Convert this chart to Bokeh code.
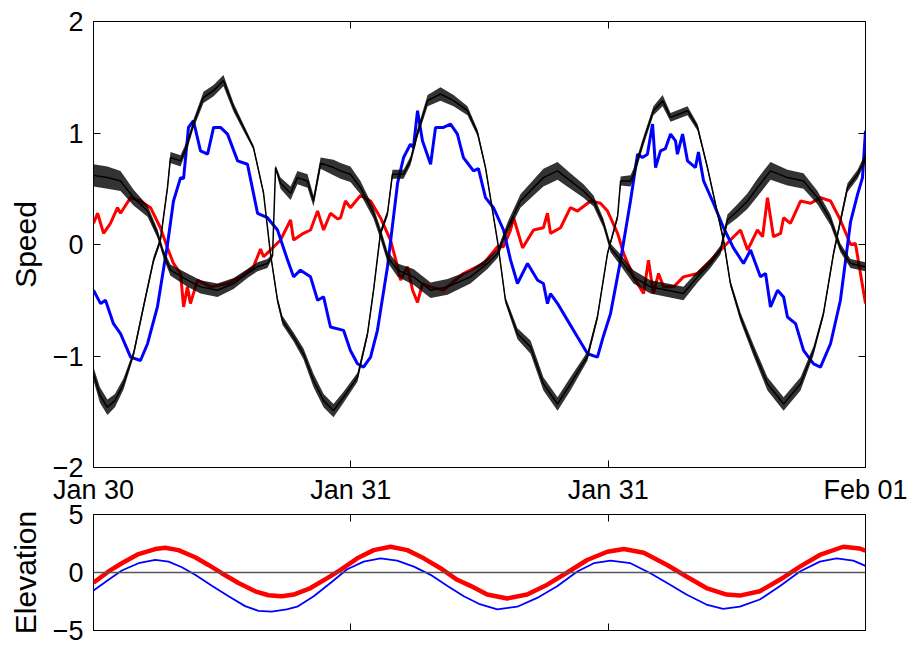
from bokeh.plotting import figure
from bokeh.layouts import column
from bokeh.models import LinearAxis, FixedTicker, Range1d, Span
from bokeh.embed import file_html
from bokeh.resources import INLINE

FONT = "Liberation Sans"

# ---- x axis (hours since first tick) ----
x_ticks = [0, 12, 24, 36]
x_tick_labels = ["Jan 30", "Jan 31", "Jan 31", "Feb 01"]
speed_ticks = [-2, -1, 0, 1, 2]
elev_ticks = [-5, 0, 5]

# ---- top panel: speed (hours, value) ----
red_speed = [(0.0, 0.19), (0.19, 0.28), (0.47, 0.10), (0.79, 0.19), (1.12, 0.33), (1.26, 0.28),
             (1.73, 0.42), (2.19, 0.39), (2.66, 0.33), (3.12, 0.15), (3.45, -0.03), (3.73, -0.17),
             (4.06, -0.26), (4.20, -0.56), (4.38, -0.38), (4.52, -0.53), (4.85, -0.32), (5.46, -0.38),
             (6.25, -0.35), (6.85, -0.29), (7.46, -0.20), (7.79, -0.04), (7.93, -0.11), (8.25, -0.05),
             (8.72, 0.04), (9.19, 0.22), (9.33, 0.04), (9.79, 0.10), (10.12, 0.13), (10.45, 0.30),
             (10.73, 0.13), (11.05, 0.28), (11.38, 0.23), (11.52, 0.24), (11.75, 0.39), (11.98, 0.33),
             (12.45, 0.44), (12.92, 0.39), (13.38, 0.24), (13.85, 0.04), (14.18, -0.20), (14.32, -0.32),
             (14.64, -0.20), (14.88, -0.41), (15.11, -0.52), (15.34, -0.35), (15.72, -0.38), (16.32, -0.41),
             (17.25, -0.26), (18.19, -0.17), (18.84, -0.02), (19.12, -0.02), (19.45, 0.13), (19.59, 0.24),
             (20.01, -0.03), (20.52, 0.13), (20.98, 0.15), (21.17, 0.28), (21.31, 0.10), (21.78, 0.15),
             (22.24, 0.33), (22.57, 0.30), (23.18, 0.39), (23.64, 0.37), (23.97, 0.30), (24.44, 0.10),
             (24.72, -0.08), (25.18, -0.29), (25.65, -0.44), (25.88, -0.14), (26.11, -0.44), (26.35, -0.26),
             (26.58, -0.38), (27.05, -0.38), (27.51, -0.29), (28.17, -0.26), (28.63, -0.17), (29.24, -0.05),
             (29.70, 0.04), (30.17, 0.13), (30.50, -0.05), (30.96, 0.13), (31.20, 0.07), (31.43, 0.42),
             (31.71, 0.07), (32.04, 0.10), (32.18, 0.24), (32.50, 0.19), (32.97, 0.39), (33.44, 0.37),
             (33.90, 0.42), (34.37, 0.39), (34.83, 0.22), (35.30, 0.00), (35.53, 0.01), (36.0, -0.53)]

blue_speed = [(0.0, -0.41), (0.33, -0.53), (0.56, -0.50), (0.93, -0.71), (1.26, -0.80), (1.73, -1.01),
              (2.19, -1.04), (2.52, -0.89), (2.98, -0.56), (3.45, 0.00), (3.73, 0.39), (4.06, 0.60),
              (4.20, 0.59), (4.43, 1.05), (4.66, 1.11), (4.99, 0.84), (5.32, 0.81), (5.60, 1.05),
              (5.92, 1.05), (6.25, 0.99), (6.72, 0.75), (7.18, 0.72), (7.65, 0.28), (8.11, 0.24),
              (8.58, 0.13), (9.05, -0.14), (9.33, -0.29), (9.65, -0.23), (10.12, -0.29), (10.45, -0.50),
              (10.73, -0.47), (11.05, -0.74), (11.66, -0.77), (11.98, -0.95), (12.31, -1.07), (12.59, -1.10),
              (12.92, -1.01), (13.24, -0.77), (13.71, -0.20), (14.18, 0.55), (14.46, 0.78), (14.78, 0.90),
              (14.92, 0.87), (15.11, 1.20), (15.34, 0.93), (15.72, 0.72), (15.95, 1.05), (16.32, 1.05),
              (16.65, 1.08), (16.97, 0.99), (17.25, 0.78), (17.72, 0.66), (17.95, 0.68), (18.28, 0.42),
              (18.65, 0.33), (19.12, 0.13), (19.45, -0.14), (19.77, -0.35), (20.24, -0.17), (20.71, -0.32),
              (20.98, -0.35), (21.17, -0.53), (21.31, -0.44), (21.64, -0.53), (21.92, -0.62), (22.57, -0.83),
              (23.04, -0.98), (23.50, -1.01), (23.78, -0.82), (24.11, -0.62), (24.58, -0.14), (25.04, 0.39),
              (25.37, 0.81), (25.60, 0.78), (25.83, 0.81), (26.07, 1.08), (26.21, 0.69), (26.44, 0.84),
              (26.67, 0.86), (26.91, 0.99), (27.14, 0.93), (27.23, 0.81), (27.47, 0.99), (27.70, 0.75),
              (28.07, 0.69), (28.21, 0.83), (28.45, 0.57), (28.91, 0.37), (29.38, 0.15), (29.84, -0.03),
              (30.31, -0.17), (30.64, -0.05), (31.10, -0.29), (31.34, -0.26), (31.57, -0.56), (31.90, -0.41),
              (32.18, -0.47), (32.36, -0.65), (32.74, -0.71), (33.11, -0.95), (33.58, -1.07), (33.90, -1.10),
              (34.37, -0.89), (34.83, -0.50), (35.30, 0.20), (35.63, 0.45), (35.86, 0.60), (36.0, 1.02)]

# black series: (hours, value, half-width of the noise band)
black_a = [(0.0, 0.62, 0.10), (0.65, 0.60, 0.10), (1.26, 0.57, 0.09), (1.87, 0.42, 0.07), (2.52, 0.30, 0.05),
           (2.98, 0.10, 0.04), (3.26, -0.08, 0.04), (3.59, -0.23, 0.05), (4.38, -0.32, 0.06), (4.99, -0.38, 0.06),
           (5.78, -0.41, 0.06), (6.53, -0.35, 0.05), (7.18, -0.26, 0.04), (7.65, -0.20, 0.04), (8.11, -0.17, 0.04),
           (8.35, -0.10, 0.02), (8.49, 0.69, 0.02), (8.72, 0.55, 0.05), (9.19, 0.46, 0.06), (9.51, 0.60, 0.06),
           (9.98, 0.57, 0.06), (10.26, 0.39, 0.05), (10.59, 0.73, 0.05), (11.19, 0.69, 0.07), (11.52, 0.66, 0.07),
           (11.98, 0.63, 0.07), (12.45, 0.51, 0.06), (13.06, 0.28, 0.05), (13.38, 0.10, 0.05), (13.71, -0.11, 0.05),
           (14.18, -0.23, 0.06), (14.92, -0.29, 0.07), (15.72, -0.41, 0.07), (16.51, -0.38, 0.07), (17.58, -0.29, 0.06),
           (18.37, -0.17, 0.05), (18.84, -0.08, 0.04), (19.31, 0.15, 0.05), (19.91, 0.39, 0.06), (20.52, 0.51, 0.07),
           (20.98, 0.60, 0.08), (21.64, 0.66, 0.08), (22.24, 0.57, 0.07), (22.85, 0.48, 0.06), (23.32, 0.39, 0.05),
           (23.78, 0.19, 0.04), (24.11, -0.03, 0.04), (24.58, -0.14, 0.05), (25.18, -0.29, 0.06), (25.97, -0.38, 0.06),
           (26.77, -0.41, 0.06), (27.51, -0.44, 0.06), (28.17, -0.29, 0.05), (28.77, -0.17, 0.04), (29.24, -0.05, 0.04),
           (29.56, 0.22, 0.05), (30.03, 0.30, 0.06), (30.50, 0.39, 0.07), (30.96, 0.51, 0.08), (31.57, 0.66, 0.08),
           (32.36, 0.60, 0.07), (33.11, 0.57, 0.07), (33.76, 0.42, 0.06), (34.37, 0.22, 0.05), (34.83, -0.03, 0.04),
           (35.30, -0.17, 0.04), (36.0, -0.20, 0.04)]

black_b = [(0.0, -1.16, 0.06), (0.30, -1.35, 0.07), (0.65, -1.46, 0.07), (1.00, -1.40, 0.06), (1.40, -1.25, 0.05),
           (1.87, -0.98, 0.03), (2.33, -0.56, 0.03), (2.80, -0.14, 0.03), (3.12, 0.04, 0.03), (3.45, 0.51, 0.03),
           (3.59, 0.78, 0.05), (4.06, 0.75, 0.05), (4.38, 0.90, 0.04), (4.66, 1.08, 0.04), (5.13, 1.32, 0.05),
           (5.60, 1.38, 0.05), (6.06, 1.47, 0.05), (6.53, 1.23, 0.04), (6.99, 1.05, 0.03), (7.46, 0.87, 0.02),
           (7.93, 0.46, 0.02), (8.25, -0.08, 0.02), (8.58, -0.50, 0.03), (8.81, -0.68, 0.04), (9.33, -0.83, 0.04),
           (9.79, -0.98, 0.05), (10.26, -1.22, 0.06), (10.73, -1.40, 0.06), (11.19, -1.49, 0.06), (11.66, -1.37, 0.05),
           (12.31, -1.19, 0.04), (12.78, -0.80, 0.03), (13.06, -0.41, 0.03), (13.38, 0.10, 0.03), (13.71, 0.28, 0.03),
           (13.94, 0.63, 0.04), (14.46, 0.63, 0.04), (14.78, 0.75, 0.04), (15.11, 1.00, 0.04), (15.58, 1.29, 0.05),
           (16.18, 1.35, 0.06), (16.79, 1.29, 0.05), (17.44, 1.20, 0.04), (17.91, 1.00, 0.03), (18.28, 0.69, 0.02),
           (18.84, 0.03, 0.02), (19.21, -0.50, 0.03), (19.77, -0.80, 0.05), (20.38, -0.92, 0.06), (20.98, -1.25, 0.06),
           (21.64, -1.43, 0.06), (22.24, -1.25, 0.06), (23.04, -1.00, 0.04), (23.50, -0.65, 0.03), (23.97, -0.08, 0.02),
           (24.44, 0.25, 0.03), (24.58, 0.57, 0.04), (25.04, 0.57, 0.05), (25.18, 0.63, 0.05), (25.65, 0.93, 0.04),
           (26.11, 1.20, 0.04), (26.54, 1.29, 0.05), (26.91, 1.14, 0.04), (27.70, 1.20, 0.04), (28.17, 1.05, 0.03),
           (28.63, 0.69, 0.02), (29.10, 0.28, 0.02), (29.38, 0.04, 0.03), (29.70, -0.35, 0.03), (30.17, -0.65, 0.04),
           (30.78, -0.95, 0.05), (31.43, -1.25, 0.06), (32.18, -1.43, 0.06), (32.97, -1.25, 0.06), (33.58, -0.95, 0.04),
           (34.04, -0.62, 0.03), (34.51, -0.08, 0.03), (35.16, 0.51, 0.04), (35.63, 0.63, 0.04), (36.0, 0.78, 0.04)]

# ---- bottom panel: elevation (hours, value) ----
red_elev = [(0.0, -0.88), (0.70, 0.09), (1.32, 0.80), (2.10, 1.59), (2.88, 2.02), (3.34, 2.13),
            (3.96, 1.93), (4.74, 1.31), (5.36, 0.65), (5.98, -0.06), (6.76, -0.91), (7.54, -1.62),
            (8.16, -1.96), (8.78, -2.05), (9.34, -1.90), (10.12, -1.34), (10.90, -0.48), (11.52, 0.23),
            (12.30, 1.22), (13.07, 1.93), (13.85, 2.22), (14.63, 1.93), (15.40, 1.22), (16.18, 0.37),
            (16.96, -0.63), (17.58, -1.15), (18.36, -1.90), (19.29, -2.24), (20.22, -1.90), (21.16, -1.05),
            (22.09, 0.00), (23.02, 1.08), (23.96, 1.79), (24.73, 2.02), (25.66, 1.70), (26.75, 0.65),
            (27.65, -0.34), (28.58, -1.34), (29.52, -1.90), (30.14, -1.99), (31.07, -1.62), (32.00, -0.63),
            (32.94, 0.51), (33.87, 1.51), (34.96, 2.22), (35.73, 2.07), (36.0, 1.88)]

blue_elev = [(0.0, -1.56), (0.70, -0.63), (1.32, 0.17), (2.10, 0.80), (2.88, 1.08), (3.50, 0.94),
             (4.12, 0.45), (4.74, -0.20), (5.52, -1.14), (6.30, -2.05), (7.07, -2.90), (7.69, -3.30),
             (8.31, -3.38), (9.01, -3.18), (9.50, -2.95), (10.27, -2.05), (11.05, -0.91), (11.83, 0.28),
             (12.60, 0.94), (13.38, 1.22), (14.16, 1.02), (14.94, 0.51), (15.72, -0.20), (16.49, -1.14),
             (17.27, -2.05), (17.97, -2.70), (18.83, -3.18), (19.76, -2.95), (20.69, -2.19), (21.62, -1.19),
             (22.56, 0.09), (23.33, 0.80), (24.11, 1.02), (25.04, 0.80), (25.97, -0.06), (26.83, -1.00),
             (27.65, -1.90), (28.58, -2.76), (29.36, -3.13), (30.14, -2.95), (31.07, -2.33), (32.00, -1.19),
             (32.94, 0.09), (33.87, 0.94), (34.65, 1.22), (35.43, 1.02), (36.0, 0.57)]


def col(rows, i):
    return [r[i] for r in rows]


def minus(v):
    return ("\u2212" + str(abs(v))) if v < 0 else str(v)


TICK_FONT = "27px"
LABEL_FONT = "30px"


def style_axis(ax, labels):
    ax.axis_line_color = None
    ax.major_tick_in = 7
    ax.major_tick_out = 0
    ax.major_tick_line_color = "black"
    ax.major_tick_line_width = 1
    ax.minor_tick_line_color = None
    ax.major_label_text_font = FONT
    if labels:
        ax.major_label_text_font_size = TICK_FONT
        ax.major_label_text_color = "black"
    else:
        ax.major_label_text_font_size = "1px"
        ax.major_label_text_color = None
        ax.major_label_standoff = 0


def base_fig(frame_h, y_lo, y_hi, top, bottom):
    p = figure(frame_width=772, frame_height=frame_h,
               x_range=Range1d(0, 36), y_range=Range1d(y_lo, y_hi),
               output_backend="svg", toolbar_location=None,
               min_border_left=93, min_border_right=45,
               min_border_top=top, min_border_bottom=bottom)
    p.xgrid.visible = False
    p.ygrid.visible = False
    p.outline_line_color = "black"
    p.outline_line_width = 1
    p.outline_line_alpha = 1
    p.background_fill_color = "white"
    return p


def style_ylabel(p, text):
    p.yaxis.axis_label = text
    p.yaxis.axis_label_text_font = FONT
    p.yaxis.axis_label_text_font_size = LABEL_FONT
    p.yaxis.axis_label_text_font_style = "normal"
    p.yaxis.axis_label_text_color = "black"
    p.yaxis.axis_label_standoff = 8
    p.yaxis.major_label_standoff = 10


# ---------------- top panel ----------------
p1 = base_fig(446, -2, 2, 21, 45)
p1.border_fill_color = "white"
p1.xaxis.ticker = FixedTicker(ticks=x_ticks)
p1.xaxis.major_label_overrides = {float(t): lab for t, lab in zip(x_ticks, x_tick_labels)}
style_axis(p1.xaxis[0], True)
p1.xaxis.major_label_standoff = 7
p1.yaxis.ticker = FixedTicker(ticks=speed_ticks)
p1.yaxis.major_label_overrides = {float(v): minus(v) for v in speed_ticks}
style_axis(p1.yaxis[0], True)
style_ylabel(p1, "Speed")

ax_top = LinearAxis(ticker=FixedTicker(ticks=x_ticks))
style_axis(ax_top, False)
p1.add_layout(ax_top, "above")
ax_right = LinearAxis(ticker=FixedTicker(ticks=speed_ticks))
style_axis(ax_right, False)
p1.add_layout(ax_right, "right")

p1.line(col(red_speed, 0), col(red_speed, 1), line_color="#ff0000", line_width=3)
p1.line(col(blue_speed, 0), col(blue_speed, 1), line_color="#0000ff", line_width=3)
for series in (black_a, black_b):
    t = col(series, 0)
    v = col(series, 1)
    w = col(series, 2)
    p1.varea(x=t, y1=[a - b for a, b in zip(v, w)], y2=[a + b for a, b in zip(v, w)],
             fill_color="black", fill_alpha=0.8)
    p1.line(t, v, line_color="black", line_width=1.5)

# ---------------- bottom panel ----------------
p2 = base_fig(116, -5, 5, 18, 16)
p2.border_fill_color = None          # transparent margin, so the date labels above show through
p2.styles = {"margin-top": "-16px"}
p2.xaxis.ticker = FixedTicker(ticks=x_ticks)
style_axis(p2.xaxis[0], False)
p2.yaxis.ticker = FixedTicker(ticks=elev_ticks)
p2.yaxis.major_label_overrides = {float(v): minus(v) for v in elev_ticks}
style_axis(p2.yaxis[0], True)
style_ylabel(p2, "Elevation")

ax_top2 = LinearAxis(ticker=FixedTicker(ticks=x_ticks))
style_axis(ax_top2, False)
p2.add_layout(ax_top2, "above")
ax_right2 = LinearAxis(ticker=FixedTicker(ticks=elev_ticks))
style_axis(ax_right2, False)
p2.add_layout(ax_right2, "right")

p2.add_layout(Span(location=0, dimension="width", line_color="#555555", line_width=1.5))
p2.line(col(blue_elev, 0), col(blue_elev, 1), line_color="#0000ff", line_width=1.8)
p2.line(col(red_elev, 0), col(red_elev, 1), line_color="#ff0000", line_width=4.5)

layout = column(p1, p2, spacing=0)
open("out.html", "w").write(file_html(layout, INLINE))
